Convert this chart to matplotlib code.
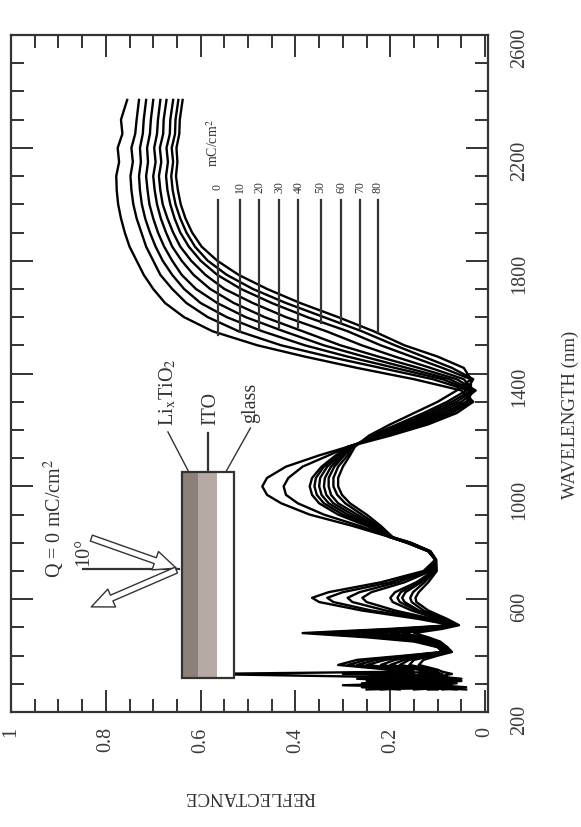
import numpy as np
import matplotlib.pyplot as plt
from matplotlib.patches import Rectangle

plt.rcParams['font.family'] = ['Liberation Serif', 'DejaVu Serif']
plt.rcParams['mathtext.fontset'] = 'stix'

# wavelength grid (nm)
wl = [280, 288, 295, 302, 310, 318, 326, 335, 343, 350, 367, 385, 400, 413, 430, 450, 465, 480, 495, 508,
      530, 560, 590, 605, 625, 660, 700, 740, 770, 800, 820, 860, 900, 940, 970, 1000, 1030, 1070, 1110, 1140,
      1180, 1220, 1260, 1300, 1340, 1380, 1420, 1460, 1500, 1550, 1600, 1650, 1700, 1750, 1800, 1850, 1900, 1950,
      2000, 2050, 2100, 2150, 2200, 2250, 2300, 2370]

# reflectance for each charge (mC/cm2)
r_0 = [0.22, 0.12, 0.30, 0.15, 0.25, 0.10, 0.28, 0.60, 0.18, 0.20, 0.31, 0.27, 0.17, 0.09, 0.10, 0.15, 0.25, 0.385, 0.20, 0.07,
       0.14, 0.26, 0.35, 0.365, 0.33, 0.22, 0.13, 0.105, 0.12, 0.165, 0.20, 0.28, 0.37, 0.43, 0.46, 0.47, 0.46, 0.42, 0.35, 0.29,
       0.20, 0.12, 0.06, 0.025, 0.05, 0.15, 0.27, 0.38, 0.48, 0.575, 0.635, 0.675, 0.70, 0.72, 0.735, 0.75, 0.76, 0.768,
       0.774, 0.777, 0.778, 0.772, 0.775, 0.765, 0.768, 0.755]
r_10 = [0.18, 0.26, 0.10, 0.22, 0.14, 0.27, 0.12, 0.30, 0.17, 0.19, 0.29, 0.25, 0.16, 0.09, 0.10, 0.14, 0.23, 0.36, 0.18, 0.07,
        0.13, 0.24, 0.32, 0.333, 0.30, 0.20, 0.125, 0.105, 0.12, 0.165, 0.20, 0.265, 0.34, 0.395, 0.42, 0.425, 0.415, 0.385, 0.33, 0.29,
        0.21, 0.13, 0.07, 0.03, 0.035, 0.11, 0.22, 0.33, 0.43, 0.52, 0.585, 0.63, 0.66, 0.685, 0.70, 0.715, 0.725, 0.735,
        0.742, 0.746, 0.748, 0.743, 0.746, 0.738, 0.735, 0.73]
r_20 = [0.25, 0.08, 0.20, 0.12, 0.24, 0.09, 0.22, 0.15, 0.16, 0.17, 0.27, 0.23, 0.15, 0.085, 0.095, 0.13, 0.21, 0.33, 0.16, 0.065,
        0.12, 0.21, 0.28, 0.29, 0.265, 0.185, 0.12, 0.105, 0.12, 0.163, 0.20, 0.25, 0.31, 0.35, 0.365, 0.37, 0.365, 0.345, 0.315, 0.29,
        0.215, 0.14, 0.08, 0.035, 0.03, 0.09, 0.19, 0.29, 0.38, 0.47, 0.545, 0.60, 0.635, 0.66, 0.68, 0.695, 0.707, 0.717,
        0.724, 0.728, 0.73, 0.726, 0.728, 0.722, 0.72, 0.715]
r_30 = [0.10, 0.20, 0.14, 0.26, 0.08, 0.19, 0.11, 0.24, 0.15, 0.16, 0.25, 0.21, 0.14, 0.085, 0.09, 0.125, 0.19, 0.30, 0.15, 0.065,
        0.11, 0.19, 0.25, 0.259, 0.24, 0.17, 0.115, 0.105, 0.118, 0.162, 0.20, 0.245, 0.30, 0.34, 0.355, 0.36, 0.357, 0.34, 0.31, 0.29,
        0.22, 0.15, 0.09, 0.04, 0.025, 0.075, 0.165, 0.255, 0.34, 0.425, 0.505, 0.565, 0.61, 0.64, 0.66, 0.677, 0.69, 0.70,
        0.708, 0.712, 0.715, 0.711, 0.713, 0.707, 0.705, 0.70]
r_40 = [0.15, 0.07, 0.18, 0.09, 0.21, 0.12, 0.17, 0.10, 0.13, 0.14, 0.22, 0.19, 0.13, 0.08, 0.09, 0.12, 0.17, 0.26, 0.13, 0.06,
        0.10, 0.155, 0.195, 0.20, 0.19, 0.145, 0.11, 0.105, 0.118, 0.16, 0.20, 0.24, 0.29, 0.33, 0.345, 0.35, 0.348, 0.333, 0.305, 0.285,
        0.225, 0.16, 0.10, 0.05, 0.02, 0.06, 0.14, 0.225, 0.305, 0.385, 0.465, 0.53, 0.58, 0.615, 0.64, 0.66, 0.673, 0.684,
        0.692, 0.697, 0.70, 0.695, 0.698, 0.692, 0.69, 0.685]
r_50 = [0.06, 0.16, 0.11, 0.19, 0.07, 0.15, 0.09, 0.20, 0.12, 0.13, 0.20, 0.17, 0.12, 0.08, 0.085, 0.11, 0.155, 0.23, 0.12, 0.06,
        0.095, 0.145, 0.18, 0.185, 0.178, 0.14, 0.108, 0.105, 0.117, 0.16, 0.20, 0.235, 0.28, 0.32, 0.335, 0.34, 0.338, 0.325, 0.30, 0.285,
        0.23, 0.17, 0.11, 0.06, 0.025, 0.045, 0.115, 0.19, 0.26, 0.335, 0.42, 0.49, 0.55, 0.59, 0.62, 0.643, 0.658, 0.67,
        0.68, 0.685, 0.688, 0.683, 0.686, 0.679, 0.678, 0.672]
r_60 = [0.12, 0.05, 0.14, 0.08, 0.17, 0.06, 0.13, 0.09, 0.11, 0.12, 0.18, 0.16, 0.115, 0.075, 0.085, 0.105, 0.14, 0.20, 0.11, 0.06,
        0.09, 0.14, 0.17, 0.175, 0.168, 0.135, 0.105, 0.104, 0.117, 0.158, 0.20, 0.23, 0.27, 0.31, 0.325, 0.33, 0.33, 0.318, 0.297, 0.28,
        0.235, 0.175, 0.12, 0.07, 0.03, 0.03, 0.09, 0.155, 0.22, 0.29, 0.375, 0.45, 0.515, 0.565, 0.60, 0.625, 0.643, 0.655,
        0.664, 0.67, 0.673, 0.669, 0.672, 0.665, 0.664, 0.658]
r_70 = [0.04, 0.13, 0.07, 0.15, 0.05, 0.12, 0.08, 0.14, 0.10, 0.11, 0.16, 0.15, 0.11, 0.075, 0.08, 0.10, 0.13, 0.175, 0.10, 0.06,
        0.085, 0.13, 0.155, 0.158, 0.152, 0.128, 0.105, 0.104, 0.116, 0.157, 0.195, 0.225, 0.26, 0.295, 0.312, 0.32, 0.32, 0.31, 0.29, 0.28,
        0.24, 0.185, 0.13, 0.08, 0.04, 0.025, 0.07, 0.13, 0.19, 0.26, 0.34, 0.42, 0.49, 0.545, 0.585, 0.612, 0.63, 0.643,
        0.653, 0.659, 0.662, 0.658, 0.661, 0.654, 0.653, 0.647]
r_80 = [0.09, 0.04, 0.11, 0.06, 0.13, 0.05, 0.10, 0.07, 0.09, 0.10, 0.14, 0.13, 0.10, 0.07, 0.08, 0.095, 0.12, 0.15, 0.09, 0.055,
        0.08, 0.12, 0.145, 0.147, 0.14, 0.12, 0.102, 0.103, 0.115, 0.156, 0.195, 0.22, 0.25, 0.285, 0.302, 0.31, 0.31, 0.30, 0.285, 0.275,
        0.245, 0.20, 0.15, 0.10, 0.06, 0.03, 0.045, 0.10, 0.17, 0.235, 0.31, 0.39, 0.46, 0.52, 0.565, 0.598, 0.618, 0.632,
        0.642, 0.648, 0.652, 0.649, 0.651, 0.645, 0.644, 0.638]

curves = [r_0, r_10, r_20, r_30, r_40, r_50, r_60, r_70, r_80]
charges = ['0', '10', '20', '30', '40', '50', '60', '70', '80']

# where each label line meets its curve (reflectance, wavelength)
line_r = [0.564, 0.518, 0.476, 0.434, 0.394, 0.347, 0.303, 0.263, 0.227]
line_wl = [1537, 1547, 1558, 1565, 1565, 1580, 1580, 1562, 1547]

fig = plt.figure(figsize=(5.81, 8.27), dpi=100)
ax = fig.add_axes([0.0189, 0.139, 0.821, 0.8186])

for r in curves:
    ax.plot(r, wl, color='black', lw=1.7, zorder=2)

# labels for the curves
for lab, x, y in zip(charges, line_r, line_wl):
    ax.plot([x, x], [2015, y], color='#333333', lw=1.6, zorder=3)
    ax.text(x, 2060, lab, rotation=90, ha='center', va='center', fontsize=8.5, color='#333333')
ax.text(0.573, 2217, 'mC/cm$^2$', rotation=90, ha='center', va='center', fontsize=10, color='#333333')

# film stack sketch
ax.add_patch(Rectangle((0.53, 320), 0.11, 731, facecolor='white', edgecolor='none', zorder=4))
ax.add_patch(Rectangle((0.606, 320), 0.034, 731, facecolor='#8c807a', edgecolor='none', zorder=5))
ax.add_patch(Rectangle((0.566, 320), 0.040, 731, facecolor='#b6aaa5', edgecolor='none', zorder=5))
ax.add_patch(Rectangle((0.53, 320), 0.11, 731, facecolor='none', edgecolor='#333333', lw=1.6, zorder=6))

txt = dict(rotation=90, ha='center', va='center', fontsize=14.5, color='#333333')
ax.text(0.669, 1334, 'Li$_{\\mathrm{x}}$TiO$_2$', **txt)
ax.text(0.579, 1278, 'ITO', **txt)
ax.text(0.495, 1295, 'glass', **txt)
ax.plot([0.669, 0.625], [1193, 1051], color='#333333', lw=1)
ax.plot([0.585, 0.585], [1189, 1051], color='#333333', lw=1.6)
ax.plot([0.495, 0.547], [1207, 1051], color='#333333', lw=1)

ax.text(0.909, 888, 'Q = 0 mC/cm$^2$', **txt)
ax.text(0.846, 767, '10°', **txt)
ax.plot([0.848, 0.646], [707, 707], color='#333333', lw=1.6)
arrow = dict(arrowstyle='simple,head_length=1.6,head_width=1.4,tail_width=0.45',
             fc='white', ec='#333333', lw=1)
ax.annotate('', xy=(0.646, 707), xytext=(0.836, 820), arrowprops=arrow)
ax.annotate('', xy=(0.836, 569), xytext=(0.646, 707), arrowprops=arrow)

ax.set_xlim(1.0, -0.006)
ax.set_ylim(200, 2600)
ax.set_xticks([1, 0.8, 0.6, 0.4, 0.2, 0])
ax.set_xticklabels(['1', '0.8', '0.6', '0.4', '0.2', '0'])
ax.set_xticks(np.arange(0, 1.001, 0.05), minor=True)
ax.set_yticks([200, 600, 1000, 1400, 1800, 2200, 2600])
ax.set_yticks(np.arange(200, 2601, 100), minor=True)

ax.tick_params(which='both', direction='in', top=True, bottom=True, left=True, right=True,
               labelleft=False, labelright=True, color='#333333', width=1.4, labelcolor='#3a3a3a',
               labelsize=14.5)
ax.tick_params(which='major', length=15.5)
ax.tick_params(which='minor', length=9.5)
ax.tick_params(axis='x', labelrotation=90, pad=11)
ax.tick_params(axis='y', labelrotation=90, pad=16)
for s in ax.spines.values():
    s.set_color('#333333')
    s.set_linewidth(1.6)

fig.text(570 / 581, 1 - 415 / 827, 'WAVELENGTH (nm)', rotation=90, ha='center', va='center',
         fontsize=13.5, color='#333333')
fig.text(250 / 581, 1 - 797 / 827, 'REFLECTANCE', rotation=180, ha='center', va='center',
         fontsize=13.5, color='#333333')

fig.savefig('out.png', dpi=100)
